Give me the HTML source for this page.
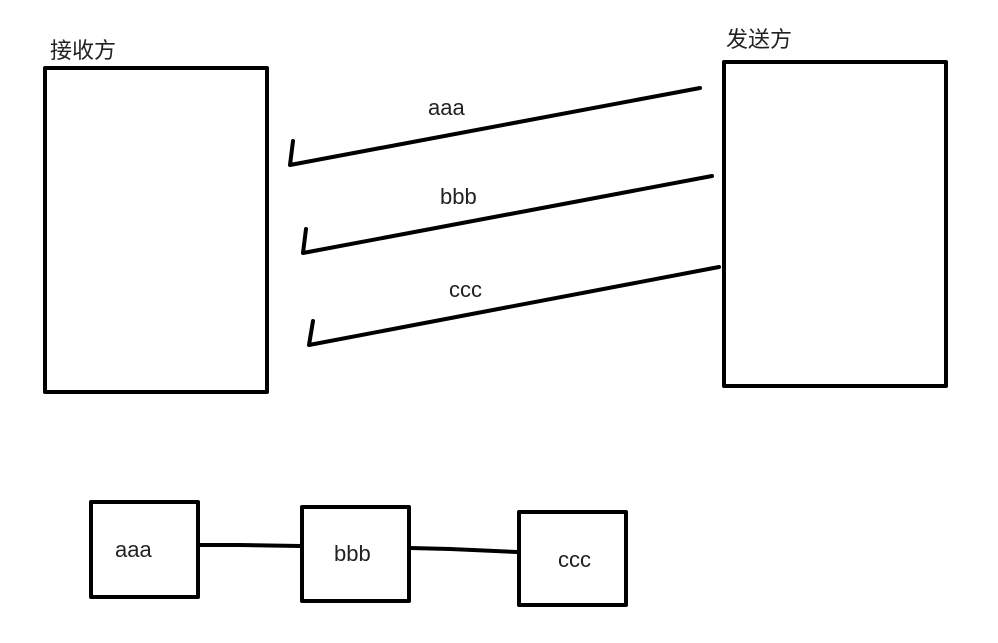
<!DOCTYPE html>
<html><head><meta charset="utf-8"><style>
body{margin:0;background:#fff;}
svg text{font-family:"Liberation Sans","Noto Sans CJK SC",sans-serif;fill:#222;}
</style></head><body>
<svg width="998" height="638" viewBox="0 0 998 638" xmlns="http://www.w3.org/2000/svg">
<g fill="none" stroke="#000" stroke-width="4" stroke-linecap="round" stroke-linejoin="round">
<rect x="45" y="68" width="222" height="324"/>
<rect x="724" y="62" width="222" height="324"/>
<polyline points="293,141 290,165 700,88"/>
<polyline points="306,229 303,253 712,176"/>
<polyline points="313,321 309,345 719,267"/>
<rect x="91" y="502" width="107" height="95"/>
<rect x="302" y="507" width="107" height="94"/>
<rect x="519" y="512" width="107" height="93"/>
<polyline points="198,545 240,545 300,546"/>
<polyline points="410,548 450,549 517,552"/>
</g>
<text x="50" y="58" font-size="22">接收方</text>
<text x="726" y="47" font-size="22">发送方</text>
<text x="428" y="115" font-size="22">aaa</text>
<text x="440" y="204" font-size="22">bbb</text>
<text x="449" y="297" font-size="22">ccc</text>
<text x="115" y="557" font-size="22">aaa</text>
<text x="334" y="561" font-size="22">bbb</text>
<text x="558" y="567" font-size="22">ccc</text>
</svg>
</body></html>
